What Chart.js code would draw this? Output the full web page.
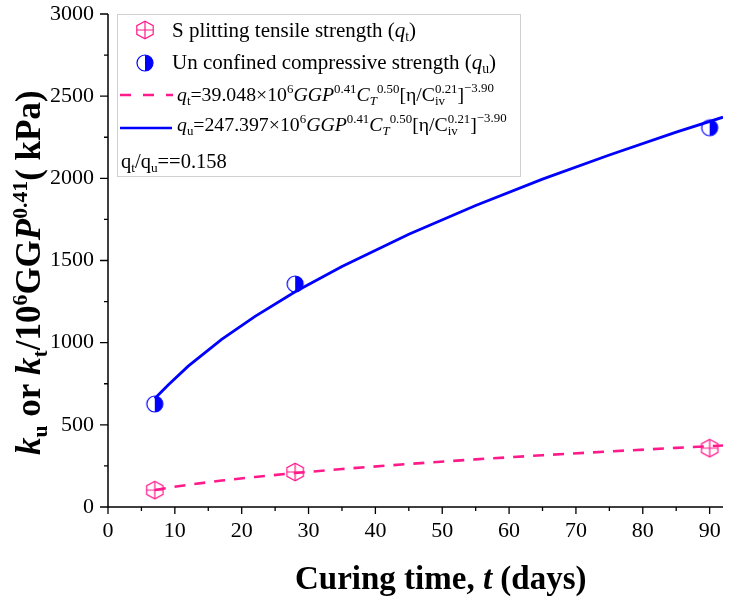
<!DOCTYPE html>
<html><head><meta charset="utf-8">
<script src="https://cdn.jsdelivr.net/npm/chart.js"></script>
<style>html,body{margin:0;padding:0;background:#fff}canvas{display:block}</style>
</head><body>
<canvas id="c" width="739" height="601"></canvas>
<script>
// ---- data ----
const curingDays = [7, 28, 90];
const tensileStrength = [103, 213, 358];
const compressiveStrength = [627, 1357, 2308];
const fitDays = [7, 9, 12, 17, 22, 28, 35, 45, 55, 65, 75, 85, 92];
const fitTensile = [103, 117, 135, 161, 183, 207, 231, 262, 290, 315, 338, 360, 374];
const fitCompressive = [660, 742, 857, 1020, 1160, 1310, 1463, 1660, 1835, 1995, 2142, 2281, 2372];
const xMajorTicks = [0, 10, 20, 30, 40, 50, 60, 70, 80, 90];
const xMinorTicks = [5, 15, 25, 35, 45, 55, 65, 75, 85];
const yMajorTicks = [0, 500, 1000, 1500, 2000, 2500, 3000];
const yMinorTicks = [250, 750, 1250, 1750, 2250, 2750];

const PINK = '#FF1A8C';
const BLUE = '#0000FF';
const FONT = '"Liberation Serif", "DejaVu Serif", serif';

function makeHex(color) {
  const c = document.createElement('canvas'); c.width = c.height = 22;
  const g = c.getContext('2d'); const cx = 11, cy = 11, r = 8.8, hw = 8.2;
  g.strokeStyle = color; g.lineWidth = 1.2;
  g.beginPath();
  g.moveTo(cx, cy - r); g.lineTo(cx + hw, cy - r / 2); g.lineTo(cx + hw, cy + r / 2);
  g.lineTo(cx, cy + r); g.lineTo(cx - hw, cy + r / 2); g.lineTo(cx - hw, cy - r / 2);
  g.closePath(); g.stroke();
  g.beginPath(); g.moveTo(cx, cy - r); g.lineTo(cx, cy + r);
  g.moveTo(cx - hw, cy); g.lineTo(cx + hw, cy); g.stroke();
  return c;
}
function makeHalf(color) {
  const c = document.createElement('canvas'); c.width = c.height = 22;
  const g = c.getContext('2d'); const cx = 11, cy = 11, r = 8;
  g.fillStyle = '#fff'; g.beginPath(); g.arc(cx, cy, r, 0, Math.PI * 2); g.fill();
  g.fillStyle = color; g.beginPath(); g.moveTo(cx, cy);
  g.arc(cx, cy, r, -Math.PI / 2, Math.PI / 2); g.closePath(); g.fill();
  g.strokeStyle = color; g.lineWidth = 1.2; g.beginPath(); g.arc(cx, cy, r, 0, Math.PI * 2); g.stroke();
  return c;
}
const hexImg = makeHex(PINK);
const halfImg = makeHalf(BLUE);

// rich text: runs = [text, style, sizeFactor, dy, flag]
function rich(ctx, x, y, runs, base, draw) {
  let cx = x, saveX = 0, saveEnd = 0;
  for (const r of runs) {
    const [t, st = '', sf = 1, dy = 0, flag = ''] = r;
    ctx.font = (st.includes('i') ? 'italic ' : '') + (st.includes('b') ? 'bold ' : '') + (base * sf) + 'px ' + FONT;
    if (flag === 'back') cx = saveX;
    const w = ctx.measureText(t).width;
    if (draw) ctx.fillText(t, cx, y + dy);
    if (flag === 'mark') { saveX = cx; saveEnd = cx + w; cx += w; }
    else if (flag === 'back') { cx = Math.max(cx + w, saveEnd); }
    else cx += w;
  }
  return cx - x;
}

const decor = {
  id: 'decor',
  afterDraw(chart) {
    const ctx = chart.ctx, a = chart.chartArea;
    const xs = chart.scales.x, ys = chart.scales.y;
    ctx.save();
    ctx.strokeStyle = '#000'; ctx.lineWidth = 1.5; ctx.lineCap = 'butt';
    ctx.beginPath();
    ctx.moveTo(a.left, a.top); ctx.lineTo(a.left, a.bottom + 0.75);
    ctx.moveTo(a.left - 0.75, a.bottom); ctx.lineTo(a.right, a.bottom);
    ctx.stroke();
    ctx.lineWidth = 1.3;
    ctx.beginPath();
    xMajorTicks.forEach(v => { const p = xs.getPixelForValue(v); ctx.moveTo(p, a.bottom); ctx.lineTo(p, a.bottom + 7); });
    xMinorTicks.forEach(v => { const p = xs.getPixelForValue(v); ctx.moveTo(p, a.bottom); ctx.lineTo(p, a.bottom + 4); });
    yMajorTicks.forEach(v => { const p = ys.getPixelForValue(v); ctx.moveTo(a.left, p); ctx.lineTo(a.left - 8, p); });
    yMinorTicks.forEach(v => { const p = ys.getPixelForValue(v); ctx.moveTo(a.left, p); ctx.lineTo(a.left - 4, p); });
    ctx.stroke();

    // legend box
    ctx.fillStyle = '#fff';
    ctx.fillRect(117.5, 14.5, 403, 162);
    ctx.strokeStyle = '#d0d0d0'; ctx.lineWidth = 1;
    ctx.strokeRect(117.5, 14.5, 403, 162);
    ctx.drawImage(hexImg, 145 - 11, 30 - 11);
    ctx.drawImage(halfImg, 145 - 11, 63 - 11);
    ctx.lineWidth = 2.6;
    ctx.strokeStyle = PINK; ctx.setLineDash([11, 12]);
    ctx.beginPath(); ctx.moveTo(120, 95); ctx.lineTo(173, 95); ctx.stroke();
    ctx.setLineDash([]);
    ctx.strokeStyle = BLUE;
    ctx.beginPath(); ctx.moveTo(120, 128); ctx.lineTo(172, 128); ctx.stroke();

    ctx.fillStyle = '#000'; ctx.textBaseline = 'alphabetic'; ctx.textAlign = 'left';
    const B = 21;
    rich(ctx, 172, 37, [['S plitting tensile strength ('], ['q', 'i'], ['t', '', 0.65, 4], [')']], B, true);
    rich(ctx, 172, 69, [['Un confined compressive strength ('], ['q', 'i'], ['u', '', 0.65, 4], [')']], B, true);
    const eq = (k, sub) => [['q', 'i'], [sub, '', 0.65, 4], ['=' + k + '×10'], ['6', '', 0.65, -8], ['GGP', 'i'], ['0.41', '', 0.65, -8],
      ['C', 'i'], ['T', 'i', 0.65, 4], ['0.50', '', 0.65, -8], ['[η/C'], ['0.21', '', 0.65, -8, 'mark'], ['iv', '', 0.65, 4, 'back'], [']'], ['−3.90', '', 0.65, -9]];
    rich(ctx, 177, 101, eq('39.048', 't'), 19.8, true);
    rich(ctx, 177, 131, eq('247.397', 'u'), 19.8, true);
    rich(ctx, 121, 168, [['q'], ['t', '', 0.65, 4], ['/q'], ['u', '', 0.65, 4], ['==0.158']], 20.5, true);

    // axis titles
    rich(ctx, 295, 589, [['Curing time, ', 'b'], ['t', 'bi'], [' (days)', 'b']], 33, true);
    ctx.save();
    ctx.translate(40, 455); ctx.rotate(-Math.PI / 2);
    rich(ctx, 0, 0, [['k', 'bi'], ['u', 'b', 0.62, 7], [' or ', 'b'], ['k', 'bi'], ['t', 'b', 0.62, 7], ['/10', 'b'],
      ['6', 'b', 0.62, -13], ['GG', 'b'], ['P', 'bi'], ['0.41', 'b', 0.62, -13], ['( kPa)', 'b']], 35, true);
    ctx.restore();
    ctx.restore();
  }
};

const toXY = (xs, ys) => xs.map((x, i) => ({ x, y: ys[i] }));

new Chart(document.getElementById('c'), {
  type: 'scatter',
  data: {
    datasets: [
      { label: 'qu fit', data: toXY(fitDays, fitCompressive), showLine: true, borderColor: BLUE, borderWidth: 2.8, pointRadius: 0, fill: false, tension: 0 },
      { label: 'qt fit', data: toXY(fitDays, fitTensile), showLine: true, borderColor: PINK, borderWidth: 2.6, borderDash: [11, 9], pointRadius: 0, fill: false, tension: 0 },
      { label: 'Un confined compressive strength', data: toXY(curingDays, compressiveStrength), showLine: false, pointStyle: halfImg, pointRadius: 8 },
      { label: 'S plitting tensile strength', data: toXY(curingDays, tensileStrength), showLine: false, pointStyle: hexImg, pointRadius: 8 }
    ]
  },
  options: {
    responsive: false, animation: false, devicePixelRatio: 1,
    layout: { padding: { left: 0, right: 16, top: 14, bottom: 0 } },
    plugins: { legend: { display: false }, tooltip: { enabled: false } },
    scales: {
      x: {
        type: 'linear', min: 0, max: 92,
        afterBuildTicks: s => { s.ticks = xMajorTicks.map(v => ({ value: v })); },
        afterFit: s => { s.height = 94; s.paddingLeft = 0; s.paddingRight = 0; },
        grid: { display: false, drawTicks: false }, border: { display: false },
        ticks: { font: { family: FONT, size: 22 }, color: '#000', padding: 11, maxRotation: 0, autoSkip: false, callback: v => String(v) }
      },
      y: {
        type: 'linear', min: 0, max: 3000,
        afterBuildTicks: s => { s.ticks = yMajorTicks.map(v => ({ value: v })); },
        afterFit: s => { s.width = 108; s.paddingTop = 0; s.paddingBottom = 0; },
        grid: { display: false, drawTicks: false }, border: { display: false },
        ticks: { font: { family: FONT, size: 22 }, color: '#000', padding: 14, autoSkip: false, callback: v => String(v) }
      }
    }
  },
  plugins: [decor]
});
</script>
</body></html>
